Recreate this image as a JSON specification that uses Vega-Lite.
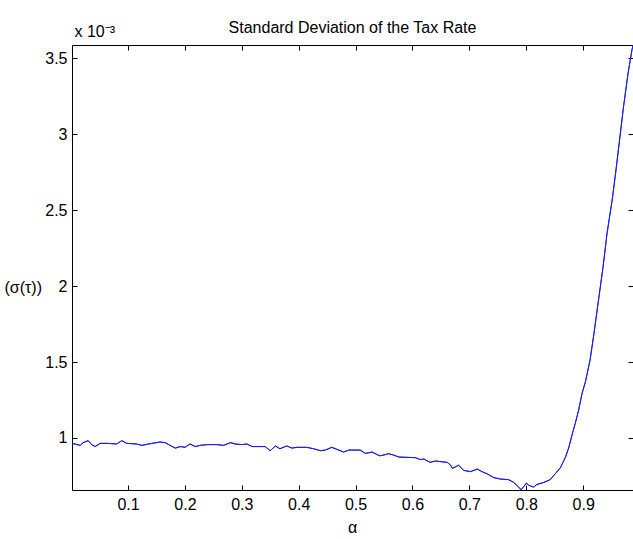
{
  "$schema": "https://vega.github.io/schema/vega-lite/v6.json",
  "width": 561,
  "height": 445,
  "autosize": "none",
  "padding": {"left": 72, "top": 45, "right": 0, "bottom": 49},
  "background": "white",
  "title": {"text": "Standard Deviation of the Tax Rate", "font": "Liberation Sans", "fontSize": 16, "fontWeight": "normal", "color": "black", "anchor": "middle", "offset": -13},
  "config": {
    "view": {"stroke": null},
    "axis": {"grid": false, "domainColor": "black", "domainWidth": 1, "tickColor": "black", "tickSize": -5, "tickWidth": 1, "labelFont": "Liberation Sans", "labelFontSize": 16, "labelColor": "black", "titleFont": "Liberation Sans", "titleFontSize": 16, "titleFontWeight": "normal", "titleColor": "black"}
  },
  "data": {"values": [
    {"alpha": 0.002, "sigma": 0.000964},
    {"alpha": 0.016, "sigma": 0.000951},
    {"alpha": 0.021, "sigma": 0.000969},
    {"alpha": 0.030, "sigma": 0.000982},
    {"alpha": 0.036, "sigma": 0.000956},
    {"alpha": 0.042, "sigma": 0.000943},
    {"alpha": 0.051, "sigma": 0.000964},
    {"alpha": 0.065, "sigma": 0.000964},
    {"alpha": 0.080, "sigma": 0.000960},
    {"alpha": 0.089, "sigma": 0.000982},
    {"alpha": 0.098, "sigma": 0.000964},
    {"alpha": 0.115, "sigma": 0.000960},
    {"alpha": 0.124, "sigma": 0.000951},
    {"alpha": 0.136, "sigma": 0.000960},
    {"alpha": 0.156, "sigma": 0.000973},
    {"alpha": 0.165, "sigma": 0.000969},
    {"alpha": 0.174, "sigma": 0.000951},
    {"alpha": 0.183, "sigma": 0.000933},
    {"alpha": 0.192, "sigma": 0.000943},
    {"alpha": 0.200, "sigma": 0.000938},
    {"alpha": 0.209, "sigma": 0.000960},
    {"alpha": 0.218, "sigma": 0.000943},
    {"alpha": 0.227, "sigma": 0.000951},
    {"alpha": 0.239, "sigma": 0.000956},
    {"alpha": 0.256, "sigma": 0.000956},
    {"alpha": 0.268, "sigma": 0.000951},
    {"alpha": 0.280, "sigma": 0.000969},
    {"alpha": 0.288, "sigma": 0.000960},
    {"alpha": 0.300, "sigma": 0.000956},
    {"alpha": 0.309, "sigma": 0.000960},
    {"alpha": 0.318, "sigma": 0.000943},
    {"alpha": 0.341, "sigma": 0.000943},
    {"alpha": 0.350, "sigma": 0.000916},
    {"alpha": 0.359, "sigma": 0.000947},
    {"alpha": 0.367, "sigma": 0.000929},
    {"alpha": 0.379, "sigma": 0.000947},
    {"alpha": 0.388, "sigma": 0.000933},
    {"alpha": 0.397, "sigma": 0.000938},
    {"alpha": 0.414, "sigma": 0.000938},
    {"alpha": 0.426, "sigma": 0.000929},
    {"alpha": 0.438, "sigma": 0.000916},
    {"alpha": 0.447, "sigma": 0.000920},
    {"alpha": 0.458, "sigma": 0.000938},
    {"alpha": 0.467, "sigma": 0.000925},
    {"alpha": 0.479, "sigma": 0.000907},
    {"alpha": 0.488, "sigma": 0.000920},
    {"alpha": 0.499, "sigma": 0.000920},
    {"alpha": 0.508, "sigma": 0.000920},
    {"alpha": 0.517, "sigma": 0.000898},
    {"alpha": 0.529, "sigma": 0.000907},
    {"alpha": 0.538, "sigma": 0.000890},
    {"alpha": 0.543, "sigma": 0.000882},
    {"alpha": 0.552, "sigma": 0.000890},
    {"alpha": 0.558, "sigma": 0.000896},
    {"alpha": 0.567, "sigma": 0.000887},
    {"alpha": 0.576, "sigma": 0.000874},
    {"alpha": 0.605, "sigma": 0.000870},
    {"alpha": 0.614, "sigma": 0.000857},
    {"alpha": 0.620, "sigma": 0.000861},
    {"alpha": 0.631, "sigma": 0.000839},
    {"alpha": 0.640, "sigma": 0.000848},
    {"alpha": 0.661, "sigma": 0.000839},
    {"alpha": 0.667, "sigma": 0.000821},
    {"alpha": 0.670, "sigma": 0.000800},
    {"alpha": 0.675, "sigma": 0.000808},
    {"alpha": 0.681, "sigma": 0.000821},
    {"alpha": 0.690, "sigma": 0.000786},
    {"alpha": 0.702, "sigma": 0.000778},
    {"alpha": 0.714, "sigma": 0.000795},
    {"alpha": 0.722, "sigma": 0.000778},
    {"alpha": 0.731, "sigma": 0.000764},
    {"alpha": 0.743, "sigma": 0.000738},
    {"alpha": 0.755, "sigma": 0.000729},
    {"alpha": 0.769, "sigma": 0.000725},
    {"alpha": 0.778, "sigma": 0.000707},
    {"alpha": 0.784, "sigma": 0.000685},
    {"alpha": 0.791, "sigma": 0.000659},
    {"alpha": 0.796, "sigma": 0.000681},
    {"alpha": 0.800, "sigma": 0.000703},
    {"alpha": 0.804, "sigma": 0.000689},
    {"alpha": 0.813, "sigma": 0.000676},
    {"alpha": 0.819, "sigma": 0.000694},
    {"alpha": 0.831, "sigma": 0.000707},
    {"alpha": 0.842, "sigma": 0.000725},
    {"alpha": 0.851, "sigma": 0.000764},
    {"alpha": 0.860, "sigma": 0.000804},
    {"alpha": 0.869, "sigma": 0.000874},
    {"alpha": 0.875, "sigma": 0.000940},
    {"alpha": 0.881, "sigma": 0.001028},
    {"alpha": 0.886, "sigma": 0.001094},
    {"alpha": 0.892, "sigma": 0.001182},
    {"alpha": 0.898, "sigma": 0.001292},
    {"alpha": 0.904, "sigma": 0.001370},
    {"alpha": 0.912, "sigma": 0.001510},
    {"alpha": 0.919, "sigma": 0.001688},
    {"alpha": 0.927, "sigma": 0.001908},
    {"alpha": 0.935, "sigma": 0.002127},
    {"alpha": 0.942, "sigma": 0.002348},
    {"alpha": 0.951, "sigma": 0.002567},
    {"alpha": 0.957, "sigma": 0.002743},
    {"alpha": 0.964, "sigma": 0.002962},
    {"alpha": 0.971, "sigma": 0.003183},
    {"alpha": 0.979, "sigma": 0.003403},
    {"alpha": 0.986, "sigma": 0.003560},
    {"alpha": 0.988, "sigma": 0.003588}
  ]},
  "layer": [
    {
      "mark": {"type": "line", "color": "#1a1aff", "strokeWidth": 1, "clip": true},
      "encoding": {
        "x": {"field": "alpha", "type": "quantitative", "scale": {"domain": [0.0015, 0.9876], "nice": false, "zero": false},
          "axis": {"orient": "bottom", "values": [0.1, 0.2, 0.3, 0.4, 0.5, 0.6, 0.7, 0.8, 0.9], "labelPadding": 11, "title": "α", "titleX": 280, "titleY": 42, "titleBaseline": "alphabetic", "titleAlign": "center"}},
        "y": {"field": "sigma", "type": "quantitative", "scale": {"domain": [0.000657, 0.003588], "nice": false, "zero": false},
          "axis": {"orient": "left", "values": [0.001, 0.0015, 0.002, 0.0025, 0.003, 0.0035], "labelExpr": "format(round(datum.value*10000)/10, '~g')", "labelPadding": 10, "title": "(σ(τ))", "titleAngle": 0, "titleX": -68, "titleY": 242, "titleAlign": "left", "titleBaseline": "middle"}}
      }
    },
    {
      "mark": {"type": "line", "color": "#1a1aff", "strokeWidth": 1, "clip": true},
      "encoding": {
        "x": {"field": "alpha", "type": "quantitative", "scale": {"domain": [0.0015, 0.9876], "nice": false, "zero": false},
          "axis": {"orient": "top", "values": [0.1, 0.2, 0.3, 0.4, 0.5, 0.6, 0.7, 0.8, 0.9], "labels": false, "title": "x 10⁻³", "titleX": 2, "titleY": -9, "titleAlign": "left", "titleBaseline": "alphabetic"}},
        "y": {"field": "sigma", "type": "quantitative", "scale": {"domain": [0.000657, 0.003588], "nice": false, "zero": false},
          "axis": {"orient": "right", "values": [0.001, 0.0015, 0.002, 0.0025, 0.003, 0.0035], "labels": false, "title": null}}
      }
    }
  ],
  "resolve": {"axis": {"x": "independent", "y": "independent"}}
}
